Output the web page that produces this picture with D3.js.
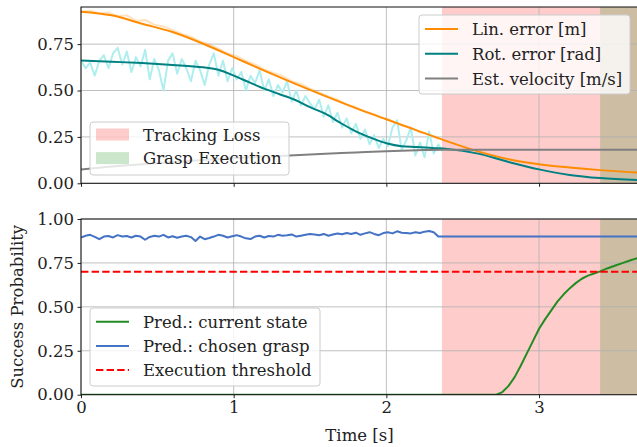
<!DOCTYPE html>
<html lang="en">
<head>
  <meta charset="UTF-8">
  <title>Tracking</title>
  <script src="https://cdn.jsdelivr.net/npm/d3@7/dist/d3.min.js"></script>
  <style>
    body { margin: 0; background: #fff; }
    text { font-family: "DejaVu Serif", serif; fill: #222; }
  </style>
</head>
<body>
  <div id="wrapper"></div>
  <script>
    // ---- data ----
    const trackingLossStart = 2.364
    const graspStart = 3.40
    const threshold = 0.7

    // smooth curves [t, value]
    const linError = [[0,0.925],[0.2,0.905],[0.4,0.86],[0.6,0.815],[0.8,0.752],[1.0,0.68],[1.2,0.607],[1.4,0.537],
      [1.6,0.47],[1.8,0.405],[2.0,0.345],[2.2,0.285],[2.4,0.226],[2.6,0.172],[2.8,0.13],[3.0,0.103],[3.2,0.085],
      [3.4,0.071],[3.648,0.058]]
    const rotError = [[0,0.662],[0.2,0.655],[0.4,0.648],[0.6,0.638],[0.8,0.625],[0.9,0.612],[1.0,0.58],[1.1,0.545],
      [1.2,0.51],[1.3,0.48],[1.4,0.45],[1.5,0.41],[1.6,0.375],[1.7,0.325],[1.8,0.28],[1.9,0.245],[2.0,0.216],
      [2.1,0.2],[2.2,0.196],[2.3,0.19],[2.4,0.185],[2.6,0.16],[2.8,0.115],[3.0,0.075],[3.2,0.045],[3.4,0.028],[3.648,0.018]]
    const velocity = [[0,0.075],[0.1,0.083],[0.2,0.09],[0.4,0.103],[0.6,0.115],[0.8,0.126],[1.0,0.136],[1.2,0.144],
      [1.4,0.151],[1.6,0.159],[1.8,0.166],[2.0,0.173],[2.2,0.178],[2.364,0.181],[3.648,0.181]]

    // raw measurements, sampled every rawStep seconds from t=0
    const rawStep = 0.03
    const rotErrorRaw = [0.66,0.62,0.65,0.58,0.66,0.69,0.62,0.70,0.73,0.64,0.71,0.60,0.68,0.63,0.72,0.56,0.67,0.61,0.50,
      0.66,0.70,0.59,0.67,0.62,0.55,0.66,0.61,0.53,0.64,0.70,0.58,0.66,0.55,0.62,0.56,0.60,0.50,0.58,0.54,0.61,0.50,
      0.56,0.47,0.53,0.49,0.55,0.44,0.50,0.42,0.47,0.43,0.40,0.45,0.36,0.42,0.33,0.38,0.30,0.35,0.27,0.32,0.24,0.29,
      0.21,0.26,0.19,0.24,0.20,0.30,0.34,0.18,0.23,0.30,0.15,0.22,0.14,0.28,0.16,0.21,0.17]
    const linStep = 0.06
    const linErrorRaw = [0.925,0.93,0.915,0.92,0.9,0.905,0.875,0.88,0.855,0.845,0.825,0.805,0.79,0.765,0.75,0.725,0.70,
      0.685,0.66,0.64,0.615,0.595,0.578,0.55,0.535,0.51,0.49,0.468,0.452,0.425,0.41,0.388,0.372,0.352,0.335,0.312,0.302,
      0.273,0.265,0.238]
    const chosenGrasp = [0.895,0.905,0.91,0.898,0.885,0.9,0.903,0.895,0.908,0.9,0.903,0.895,0.905,0.9,0.882,0.898,
      0.905,0.9,0.91,0.895,0.902,0.893,0.9,0.905,0.897,0.875,0.9,0.885,0.892,0.9,0.91,0.905,0.895,0.902,0.908,0.9,
      0.89,0.886,0.9,0.905,0.895,0.903,0.9,0.91,0.905,0.907,0.912,0.9,0.905,0.91,0.915,0.912,0.908,0.915,0.905,0.912,
      0.918,0.913,0.92,0.915,0.922,0.91,0.918,0.925,0.915,0.908,0.92,0.925,0.918,0.93,0.922,0.92,0.918,0.925,0.92,
      0.928,0.932,0.925,0.9]
    const chosenGraspHeld = 0.9
    const currentState = [[0,0],[2.72,0],[2.76,0.015],[2.8,0.05],[2.84,0.1],[2.88,0.165],[2.92,0.235],[2.96,0.305],
      [3.0,0.375],[3.04,0.43],[3.08,0.48],[3.12,0.53],[3.16,0.57],[3.2,0.605],[3.24,0.635],[3.28,0.66],[3.32,0.678],
      [3.36,0.69],[3.4,0.702],[3.45,0.72],[3.5,0.735],[3.55,0.75],[3.6,0.765],[3.648,0.778]]

    const xTicks = [0, 1, 2, 3]
    const topYTicks = [0, 0.25, 0.5, 0.75]
    const botYTicks = [0, 0.25, 0.5, 0.75, 1.0]

    // ---- layout ----
    const dimensions = { width: 637, height: 447, left: 81, right: 638 }
    const fontSize = '16.5px'

    const svg = d3.select('#wrapper').append('svg')
      .attr('width', dimensions.width)
      .attr('height', dimensions.height)

    const xScale = d3.scaleLinear().domain([0, 3.648]).range([dimensions.left, dimensions.right])
    const yTop = d3.scaleLinear().domain([0, 0.95]).range([183.3, 7])
    const yBot = d3.scaleLinear().domain([0, 1]).range([394.7, 219])

    function drawPanel(id, yScale, yTicks, showXLabels) {
      const [y0, y1] = yScale.range()
      const g = svg.append('g')
      g.append('clipPath').attr('id', id).append('rect')
        .attr('x', dimensions.left).attr('y', y1)
        .attr('width', dimensions.right - dimensions.left).attr('height', y0 - y1)
      // spans
      g.append('rect').attr('x', xScale(trackingLossStart)).attr('y', y1)
        .attr('width', xScale.range()[1] - xScale(trackingLossStart)).attr('height', y0 - y1)
        .attr('fill', 'red').attr('fill-opacity', 0.2)
      g.append('rect').attr('x', xScale(graspStart)).attr('y', y1)
        .attr('width', xScale.range()[1] - xScale(graspStart)).attr('height', y0 - y1)
        .attr('fill', 'green').attr('fill-opacity', 0.2)
      // grid
      g.append('g').selectAll('line').data(xTicks).join('line')
        .attr('x1', d => xScale(d)).attr('x2', d => xScale(d)).attr('y1', y0).attr('y2', y1)
        .attr('stroke', '#b0b0b0').attr('stroke-width', 0.8)
      g.append('g').selectAll('line').data(yTicks).join('line')
        .attr('x1', dimensions.left).attr('x2', dimensions.right).attr('y1', d => yScale(d)).attr('y2', d => yScale(d))
        .attr('stroke', '#b0b0b0').attr('stroke-width', 0.8)
      // axes
      const yAxis = g.append('g').attr('transform', `translate(${dimensions.left},0)`)
        .call(d3.axisLeft(yScale).tickValues(yTicks).tickFormat(d3.format('.2f')).tickSize(3.5).tickPadding(3.5))
      const xAxis = g.append('g').attr('transform', `translate(0,${y0})`)
        .call(d3.axisBottom(xScale).tickValues(xTicks).tickFormat(showXLabels ? d3.format('d') : '').tickSize(3.5).tickPadding(3.5))
      ;[yAxis, xAxis].forEach(a => {
        a.select('.domain').remove()
        a.selectAll('text').style('font-family', '"DejaVu Serif", serif').style('font-size', fontSize).attr('fill', '#222')
        a.selectAll('line').attr('stroke', '#222')
      })
      const lines = g.append('g').attr('clip-path', `url(#${id})`)
      const frame = g.append('rect').attr('x', dimensions.left).attr('y', y1)
        .attr('width', dimensions.right - dimensions.left).attr('height', y0 - y1)
        .attr('fill', 'none').attr('stroke', '#111').attr('stroke-width', 1)
      return { g, lines, frame }
    }

    const topPanel = drawPanel('clipTop', yTop, topYTicks, false)
    const botPanel = drawPanel('clipBot', yBot, botYTicks, true)

    const lineTop = d3.line().x(d => xScale(d[0])).y(d => yTop(d[1]))
    const lineBot = d3.line().x(d => xScale(d[0])).y(d => yBot(d[1]))
    const smoothTop = d3.line().x(d => xScale(d[0])).y(d => yTop(d[1])).curve(d3.curveMonotoneX)

    function addPath(parent, gen, data, color, width, extra) {
      const p = parent.append('path').attr('d', gen(data)).attr('fill', 'none')
        .attr('stroke', color).attr('stroke-width', width).attr('stroke-linejoin', 'round')
      if (extra) extra(p)
      return p
    }

    // top panel lines
    addPath(topPanel.lines, lineTop, linErrorRaw.map((v, i) => [i * linStep, v]), '#ff8c00', 2, p => p.attr('stroke-opacity', 0.25))
    addPath(topPanel.lines, lineTop, rotErrorRaw.map((v, i) => [i * rawStep, v]), '#afeeee', 2)
    addPath(topPanel.lines, smoothTop, linError, '#ff8c00', 2)
    addPath(topPanel.lines, smoothTop, rotError, '#008080', 2)
    addPath(topPanel.lines, smoothTop, velocity, '#808080', 2)

    // bottom panel lines
    const graspSeries = chosenGrasp.map((v, i) => [i * rawStep, v])
    graspSeries.push([trackingLossStart, chosenGraspHeld], [3.648, chosenGraspHeld])
    addPath(botPanel.lines, lineBot, currentState, '#228b22', 2)
    addPath(botPanel.lines, lineBot, graspSeries, '#4472c4', 2)
    addPath(botPanel.lines, lineBot, [[0, threshold], [3.648, threshold]], 'red', 2, p => p.attr('stroke-dasharray', '7.4,3.2'))

    // legends
    function legend(box, items) {
      const g = svg.append('g')
      g.append('rect').attr('x', box.x).attr('y', box.y).attr('width', box.w).attr('height', box.h)
        .attr('rx', 3).attr('fill', 'white').attr('fill-opacity', 0.8)
        .attr('stroke', '#cccccc').attr('stroke-width', 1)
      items.forEach((it, i) => {
        const cy = box.first + i * box.step
        if (it.type === 'patch') {
          g.append('rect').attr('x', box.x + 6).attr('y', cy - 6).attr('width', 33).attr('height', 12)
            .attr('fill', it.color).attr('fill-opacity', 0.2)
        } else {
          g.append('line').attr('x1', box.x + 6).attr('x2', box.x + 39).attr('y1', cy).attr('y2', cy)
            .attr('stroke', it.color).attr('stroke-width', 2).attr('stroke-dasharray', it.dash || null)
        }
        g.append('text').attr('x', box.x + 53).attr('y', cy + 6).style('font-size', fontSize).text(it.label)
      })
    }

    legend({ x: 419, y: 15, w: 211, h: 79, first: 29, step: 24.8 }, [
      { label: 'Lin. error [m]', color: '#ff8c00' },
      { label: 'Rot. error [rad]', color: '#008080' },
      { label: 'Est. velocity [m/s]', color: '#808080' }
    ])
    legend({ x: 90, y: 122, w: 199, h: 53, first: 134.5, step: 23.6 }, [
      { label: 'Tracking Loss', color: 'red', type: 'patch' },
      { label: 'Grasp Execution', color: 'green', type: 'patch' }
    ])
    legend({ x: 90, y: 308, w: 230, h: 78, first: 321.7, step: 24.2 }, [
      { label: 'Pred.: current state', color: '#228b22' },
      { label: 'Pred.: chosen grasp', color: '#4472c4' },
      { label: 'Execution threshold', color: 'red', dash: '7.4,3.2' }
    ])

    // axis titles
    svg.append('text').attr('x', (dimensions.left + dimensions.right) / 2).attr('y', 441)
      .attr('text-anchor', 'middle').style('font-size', fontSize).text('Time [s]')
    svg.append('text').attr('transform', `translate(23,${(yBot.range()[0] + yBot.range()[1]) / 2}) rotate(-90)`)
      .attr('text-anchor', 'middle').style('font-size', fontSize).text('Success Probability')
  </script>
</body>
</html>
